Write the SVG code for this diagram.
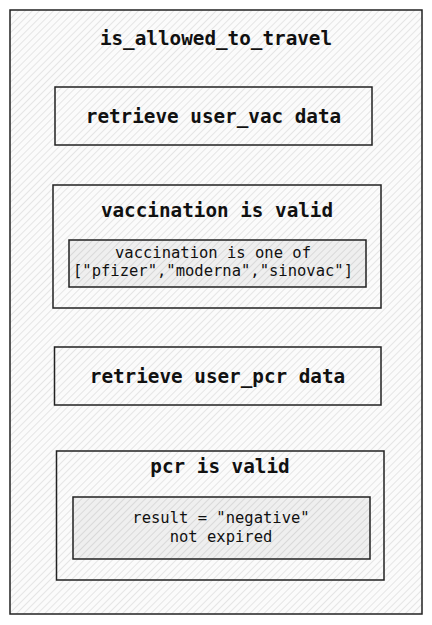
<svg xmlns="http://www.w3.org/2000/svg" width="432" height="625" viewBox="0 0 432 625">
<defs>
<pattern id="hatch" width="5" height="5" patternUnits="userSpaceOnUse" patternTransform="rotate(45)">
<rect width="5" height="5" fill="#fbfbfb"/>
<line x1="0" y1="0" x2="0" y2="5" stroke="#d0d0d0" stroke-width="1"/>
</pattern>
<pattern id="hatch2" width="5" height="5" patternUnits="userSpaceOnUse" patternTransform="rotate(45)">
<rect width="5" height="5" fill="#efefef"/>
<line x1="0" y1="0" x2="0" y2="5" stroke="#c4c4c4" stroke-width="1"/>
</pattern>
</defs>
<style>
.box{fill:url(#hatch);stroke:#222;stroke-width:1.5}
.inner{fill:url(#hatch2);stroke:#222;stroke-width:1.5}
.t{font-family:"DejaVu Sans Mono","Liberation Mono",monospace;font-weight:bold;fill:#111;text-anchor:middle}
.big{font-size:19.3px}
.small{font-size:15.5px;font-weight:normal}
</style>
<rect width="432" height="625" fill="#ffffff"/>
<g id="is_allowed_to_travel">
<rect class="box" x="10" y="10" width="412" height="604"/>
<text class="t big" x="216" y="45">is_allowed_to_travel</text>
</g>
<g id="retrieve_user_vac_data">
<rect class="box" x="55" y="87" width="317" height="58"/>
<text class="t big" x="213.5" y="123">retrieve user_vac data</text>
</g>
<g id="vaccination_is_valid">
<rect class="box" x="53" y="185" width="328" height="123"/>
<text class="t big" x="217" y="217">vaccination is valid</text>
</g>
<g id="vaccination_is_one_of">
<rect class="inner" x="69" y="240" width="297" height="47"/>
<text class="t small" x="213" y="258">vaccination is one of</text>
<text class="t small" x="213" y="276">["pfizer","moderna","sinovac"]</text>
</g>
<g id="retrieve_user_pcr_data">
<rect class="box" x="54.5" y="347" width="326.5" height="58"/>
<text class="t big" x="217.5" y="383">retrieve user_pcr data</text>
</g>
<g id="pcr_is_valid">
<rect class="box" x="56.5" y="451" width="327.5" height="129"/>
<text class="t big" x="220" y="473">pcr is valid</text>
</g>
<g id="pcr_conditions">
<rect class="inner" x="73" y="497" width="297" height="62"/>
<text class="t small" x="221" y="523">result = "negative"</text>
<text class="t small" x="221" y="542">not expired</text>
</g>
<g id="connectors"></g>
</svg>
